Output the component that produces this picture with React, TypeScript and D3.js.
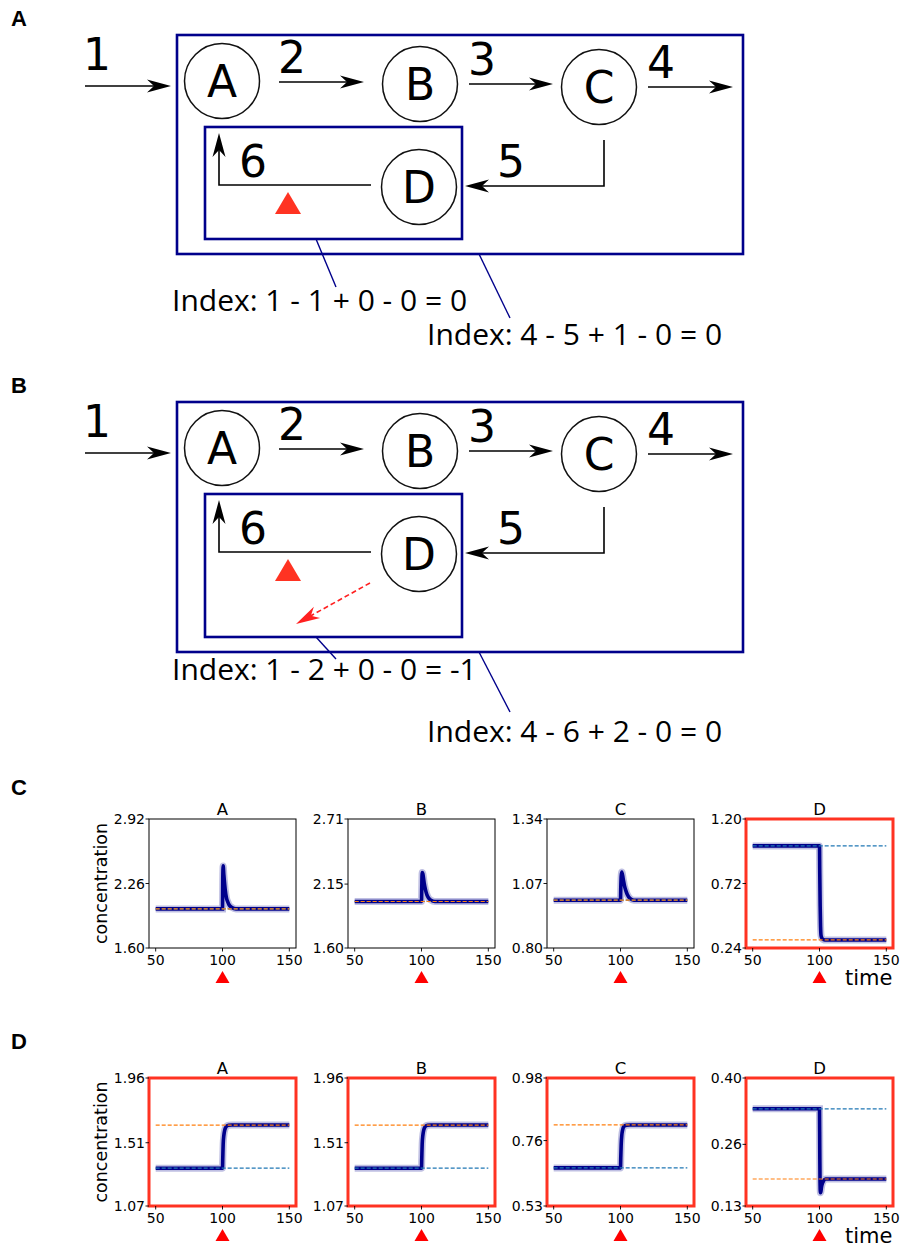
import React from "react";
import * as d3 from "d3";

// ---------- DATA ----------
const plotTitles = ["A", "B", "C", "D"];
const timeTicks = [50, 100, 150];
const timeDomain = [45, 155];

// Row C (panel C): y tick labels per subplot
const rowCTicks = [
  [1.6, 2.26, 2.92],
  [1.6, 2.15, 2.71],
  [0.8, 1.07, 1.34],
  [0.24, 0.72, 1.2],
];
// Row D (panel D)
const rowDTicks = [
  [1.07, 1.51, 1.96],
  [1.07, 1.51, 1.96],
  [0.53, 0.76, 0.98],
  [0.13, 0.26, 0.4],
];

// time points
const tSpike = [50, 100, 100.2, 100.5, 101, 102, 103, 104, 105, 107, 110, 150];
const cA = [2.0, 2.0, 2.3, 2.44, 2.35, 2.2, 2.11, 2.07, 2.04, 2.015, 2.0, 2.0];
const cB = [2.0, 2.0, 2.12, 2.25, 2.24, 2.16, 2.1, 2.06, 2.035, 2.012, 2.0, 2.0];
const cC = [1.0, 1.0, 1.05, 1.1, 1.118, 1.09, 1.06, 1.04, 1.025, 1.008, 1.0, 1.0];
const tDrop = [50, 100, 100.2, 100.5, 100.8, 101.2, 102, 103, 104, 106, 150];
const cD = [1.0, 1.0, 0.8, 0.55, 0.4, 0.33, 0.31, 0.302, 0.3, 0.3, 0.3];

const tRise = [50, 100, 100.2, 100.5, 101, 101.6, 102.3, 103.2, 104.5, 107, 150];
const dA = [1.333, 1.333, 1.4, 1.5, 1.56, 1.595, 1.615, 1.626, 1.632, 1.633, 1.633];
const dB = [1.333, 1.333, 1.4, 1.5, 1.56, 1.595, 1.615, 1.626, 1.632, 1.633, 1.633];
const dC = [0.664, 0.664, 0.7, 0.745, 0.78, 0.798, 0.808, 0.812, 0.814, 0.815, 0.815];
const tDip = [50, 100, 100.2, 100.4, 100.7, 101, 101.5, 102.2, 103, 104.5, 150];
const dD = [0.335, 0.335, 0.25, 0.18, 0.158, 0.16, 0.17, 0.178, 0.183, 0.187, 0.187];

const rowCBefore = [2.0, 2.0, 1.0, 1.0];
const rowCAfter = [2.0, 2.0, 1.0, 0.3];
const rowDBefore = [1.333, 1.333, 0.664, 0.335];
const rowDAfter = [1.633, 1.633, 0.815, 0.187];
const rowCHighlight = [false, false, false, true];
const rowDHighlight = [true, true, true, true];

const rowCSeries = [
  { t: tSpike, v: cA },
  { t: tSpike, v: cB },
  { t: tSpike, v: cC },
  { t: tDrop, v: cD },
];
const rowDSeries = [
  { t: tRise, v: dA },
  { t: tRise, v: dB },
  { t: tRise, v: dC },
  { t: tDip, v: dD },
];

const indexTextsA = ["Index: 1 - 1 + 0 - 0 = 0", "Index: 4 - 5 + 1 - 0 = 0"];
const indexTextsB = ["Index: 1 - 2 + 0 - 0 = -1", "Index: 4 - 6 + 2 - 0 = 0"];
const reactionLabels = ["1", "2", "3", "4", "5", "6"];
const nodeLabels = ["A", "B", "C", "D"];

// ---------- STYLE ----------
const NAVY = "#00008b";
const RED = "#ff3322";
const TAB_BLUE = "#1f77b4";
const TAB_ORANGE = "#ff7f0e";

const plotLefts = [149, 348, 547, 746];
const plotW = 147;

function headPath(tx: number, ty: number, ang: number, L = 24, W = 6.5, N = 17) {
  const c = Math.cos(ang),
    s = Math.sin(ang);
  const p = (u: number, v: number) => [tx + u * c - v * s, ty + u * s + v * c];
  const pts = [p(0, 0), p(-L, -W), p(-N, 0), p(-L, W)];
  return "M" + pts.map((q) => q.join(",")).join("L") + "Z";
}

function Arrow({ pts, color = "#000", dash }: { pts: number[][]; color?: string; dash?: string }) {
  const n = pts.length;
  const [x1, y1] = pts[n - 2];
  const [x2, y2] = pts[n - 1];
  const ang = Math.atan2(y2 - y1, x2 - x1);
  const N = 17;
  const linePts = pts.slice(0, n - 1).concat([[x2 - N * Math.cos(ang), y2 - N * Math.sin(ang)]]);
  return (
    <g>
      <polyline
        points={linePts.map((q) => q.join(",")).join(" ")}
        fill="none"
        stroke={color}
        strokeWidth={1.6}
        strokeDasharray={dash}
      />
      <path d={headPath(x2, y2, ang)} fill={color} />
    </g>
  );
}

function Diagram({
  y0,
  label,
  texts,
  outerBottom,
  innerBottom,
  conn,
  textPos,
  extra,
}: {
  y0: number;
  label: string;
  texts: string[];
  outerBottom: number;
  innerBottom: number;
  conn: number[][];
  textPos: number[][];
  extra?: boolean;
}) {
  const circles = [
    [222, 81],
    [420, 84],
    [599, 87],
    [419, 187],
  ];
  const digitPos = [
    [97, 70],
    [292, 73],
    [482, 75],
    [661, 78],
    [511, 177],
    [253, 177],
  ];
  return (
    <g>
      <text x={11} y={y0 + 26} fontFamily="Liberation Sans, Arial" fontWeight="bold" fontSize={22}>
        {label}
      </text>
      <g transform={`translate(0,${y0})`}>
        <rect x={177} y={35} width={566} height={outerBottom - 35} fill="none" stroke={NAVY} strokeWidth={2.6} />
        <rect x={205} y={127} width={257} height={innerBottom - 127} fill="none" stroke={NAVY} strokeWidth={2.6} />
        {circles.map(([cx, cy], i) => (
          <g key={i}>
            <circle cx={cx} cy={cy} r={37.5} fill="none" stroke="#111" strokeWidth={1.5} />
            <text x={cx} y={cy + 16} textAnchor="middle" fontFamily="DejaVu Sans" fontSize={44}>
              {nodeLabels[i]}
            </text>
          </g>
        ))}
        {digitPos.map(([x, y], i) => (
          <text key={i} x={x} y={y} textAnchor="middle" fontFamily="DejaVu Sans" fontSize={44}>
            {reactionLabels[i]}
          </text>
        ))}
        <Arrow pts={[[85, 86], [171, 86]]} />
        <Arrow pts={[[279, 82], [364, 82]]} />
        <Arrow pts={[[469, 84], [553, 84]]} />
        <Arrow pts={[[648, 87], [733, 87]]} />
        <Arrow pts={[[604, 140], [604, 186], [465, 186]]} />
        <Arrow pts={[[371, 185], [219, 185], [219, 133]]} />
        <path d="M275,214 L301,214 L288,192 Z" fill={RED} />
        {extra && <Arrow pts={[[370, 216], [296, 257]]} color="#ff2020" dash="5,3" />}
        {conn.map(([xa, ya, xb, yb], i) => (
          <line key={i} x1={xa} y1={ya} x2={xb} y2={yb} stroke={NAVY} strokeWidth={1.4} />
        ))}
        {texts.map((t, i) => (
          <text key={i} x={textPos[i][0]} y={textPos[i][1]} fontFamily="Open Sans" fontSize={30}>
            {t}
          </text>
        ))}
      </g>
    </g>
  );
}

function SubPlot({
  left,
  top,
  h,
  ticks,
  series,
  before,
  after,
  highlight,
  title,
  yLabel,
  timeLabel,
}: any) {
  const x = d3.scaleLinear().domain(timeDomain).range([left, left + plotW]);
  const y = d3.scaleLinear().domain([ticks[0], ticks[2]]).range([top + h, top]);
  const line = d3
    .line<number>()
    .x((_, i) => x(series.t[i]))
    .y((d) => y(d))
    .curve(d3.curveMonotoneX);
  const d = line(series.v) || "";
  const bottom = top + h;
  return (
    <g>
      <path d={d} fill="none" stroke={NAVY} strokeOpacity={0.25} strokeWidth={7} />
      <path d={d} fill="none" stroke={NAVY} strokeWidth={3.6} />
      <line x1={x(50)} x2={x(150)} y1={y(before)} y2={y(before)} stroke={TAB_BLUE} strokeWidth={1.2} strokeDasharray="4,2" />
      <line x1={x(50)} x2={x(150)} y1={y(after)} y2={y(after)} stroke={TAB_ORANGE} strokeWidth={1.2} strokeDasharray="4,2" />
      <rect
        x={left}
        y={top}
        width={plotW}
        height={h}
        fill="none"
        stroke={highlight ? RED : "#000"}
        strokeWidth={highlight ? 3 : 1}
      />
      {ticks.map((t: number, i: number) => (
        <g key={i}>
          <line x1={left - 3.5} x2={left} y1={y(t)} y2={y(t)} stroke="#000" strokeWidth={0.9} />
          <text x={left - 4} y={y(t)} dy="0.36em" textAnchor="end" fontFamily="DejaVu Sans" fontSize={14}>
            {t.toFixed(2)}
          </text>
        </g>
      ))}
      {timeTicks.map((t, i) => (
        <g key={i}>
          <line x1={x(t)} x2={x(t)} y1={bottom} y2={bottom + 3.5} stroke="#000" strokeWidth={0.9} />
          <text x={x(t)} y={bottom + 17} textAnchor="middle" fontFamily="DejaVu Sans" fontSize={14}>
            {t}
          </text>
        </g>
      ))}
      <path
        d={`M${x(100) - 7},${bottom + 35} L${x(100) + 7},${bottom + 35} L${x(100)},${bottom + 23} Z`}
        fill="#ff0000"
      />
      <text x={left + plotW / 2} y={top - 4} textAnchor="middle" fontFamily="DejaVu Sans" fontSize={16.5}>
        {title}
      </text>
      {yLabel && (
        <text
          transform={`translate(${left - 42},${top + h / 2}) rotate(-90)`}
          textAnchor="middle"
          fontFamily="DejaVu Sans"
          fontSize={17.5}
        >
          concentration
        </text>
      )}
      {timeLabel && (
        <text x={845} y={bottom + 37} fontFamily="DejaVu Sans" fontSize={21}>
          time
        </text>
      )}
    </g>
  );
}

export default function App() {
  return (
    <svg
      width={901}
      height={1249}
      style={{ position: "absolute", left: 0, top: 0, background: "#fff" }}
      xmlns="http://www.w3.org/2000/svg"
    >
      <rect width={901} height={1249} fill="#fff" />
      <Diagram
        y0={0}
        label="A"
        texts={indexTextsA}
        outerBottom={254}
        innerBottom={239}
        conn={[
          [316, 239, 336, 287],
          [479, 254, 510, 318],
        ]}
        textPos={[
          [172, 311],
          [427, 345],
        ]}
      />
      <Diagram
        y0={367}
        label="B"
        texts={indexTextsB}
        outerBottom={285}
        innerBottom={270}
        conn={[
          [316, 270, 336, 292],
          [479, 285, 510, 345],
        ]}
        textPos={[
          [172, 313],
          [427, 375],
        ]}
        extra
      />
      <text x={11} y={795} fontFamily="Liberation Sans, Arial" fontWeight="bold" fontSize={22}>
        C
      </text>
      <text x={11} y={1049} fontFamily="Liberation Sans, Arial" fontWeight="bold" fontSize={22}>
        D
      </text>
      {plotLefts.map((l, i) => (
        <SubPlot
          key={"c" + i}
          left={l}
          top={819}
          h={129}
          ticks={rowCTicks[i]}
          series={rowCSeries[i]}
          before={rowCBefore[i]}
          after={rowCAfter[i]}
          highlight={rowCHighlight[i]}
          title={plotTitles[i]}
          yLabel={i === 0}
          timeLabel={i === 3}
        />
      ))}
      {plotLefts.map((l, i) => (
        <SubPlot
          key={"d" + i}
          left={l}
          top={1078}
          h={128}
          ticks={rowDTicks[i]}
          series={rowDSeries[i]}
          before={rowDBefore[i]}
          after={rowDAfter[i]}
          highlight={rowDHighlight[i]}
          title={plotTitles[i]}
          yLabel={i === 0}
          timeLabel={i === 3}
        />
      ))}
    </svg>
  );
}
